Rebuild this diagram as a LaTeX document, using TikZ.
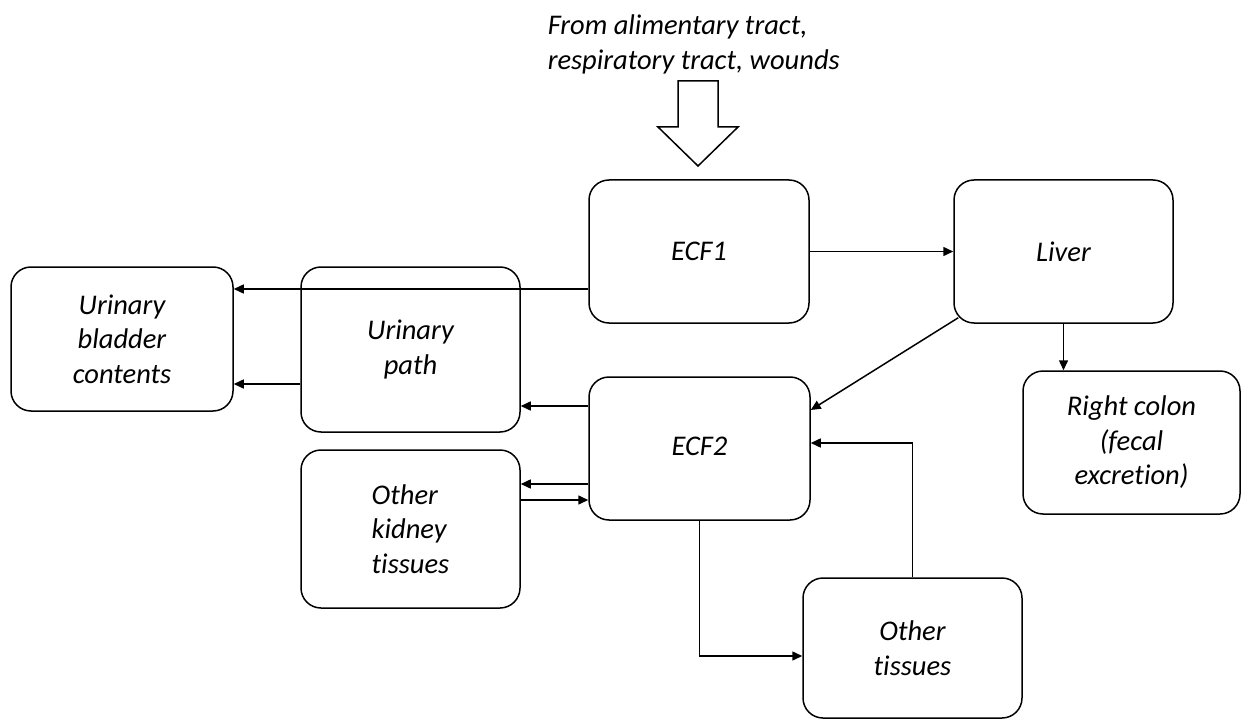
\documentclass[tikz,border=0pt]{standalone}
\usepackage{fontspec}
\setmainfont{Carlito}[Ligatures=NoCommon]
\usetikzlibrary{arrows.meta,calc}
\begin{document}
\begin{tikzpicture}[x=1pt,y=-1pt,
  line width=1.5pt,
  font=\fontsize{28.5}{34.5}\selectfont\itshape,
  box/.style={draw,rounded corners=20pt,inner sep=0pt,align=center},
  arr/.style={-{Triangle[length=10pt,width=9pt]}}]
\useasboundingbox (0,0) rectangle (1241,719);

% compartments
\node[box,minimum width=222pt,minimum height=144pt] (bladder) at (122,339) {Urinary\\bladder\\contents};
\node[box,minimum width=219pt,minimum height=165pt] (path) at (410.5,349.5) {Urinary\\path};
\node[box,minimum width=219pt,minimum height=158pt,align=left] (kidney) at (410.5,529) {Other\\kidney\\tissues};
\node[box,minimum width=220pt,minimum height=143pt] (ecf1) at (699,251.5) {ECF1};
\node[box,minimum width=219pt,minimum height=143pt] (liver) at (1063.5,251.5) {Liver};
\node[box,minimum width=221pt,minimum height=143pt] (ecf2) at (699.5,448.5) {\raisebox{4pt}{ECF2}};
\node[box,minimum width=217pt,minimum height=143pt] (colon) at (1131.5,442.5) {Right colon\\(fecal\\excretion)};
\node[box,minimum width=219pt,minimum height=140pt] (oth) at (912.5,648) {Other\\tissues};

% intake label and block arrow
\node[align=left,anchor=north west,inner sep=0pt] (src) at (547,14) {From alimentary tract,\\respiratory tract, wounds};
\draw[fill=white] (678,81) -- (718,81) -- (718,127) -- (738,127) -- (698,166)
  -- (658,127) -- (678,127) -- cycle;

% transfers
\draw[arr] (ecf1.west |- 0,289) -- (bladder.east |- 0,289);
\draw[arr] (path.west |- 0,384) -- (bladder.east |- 0,384);
\draw[arr] (ecf2.west |- 0,406) -- (path.east |- 0,406);
\draw[arr] (ecf2.west |- 0,484) -- (kidney.east |- 0,484);
\draw[arr] (kidney.east |- 0,500) -- (ecf2.west |- 0,500);
\draw[arr] (ecf1.east) -- (liver.west);
\draw[arr] (liver.south) -- (liver.south |- colon.north);
\draw[arr] ($(liver.south west)+(5,-6)$) -- (ecf2.east |- 0,410);
\draw[arr] (ecf2.south) |- (oth.west |- 0,656);
\draw[arr] (oth.north) |- (ecf2.east |- 0,443);
\end{tikzpicture}
\end{document}
